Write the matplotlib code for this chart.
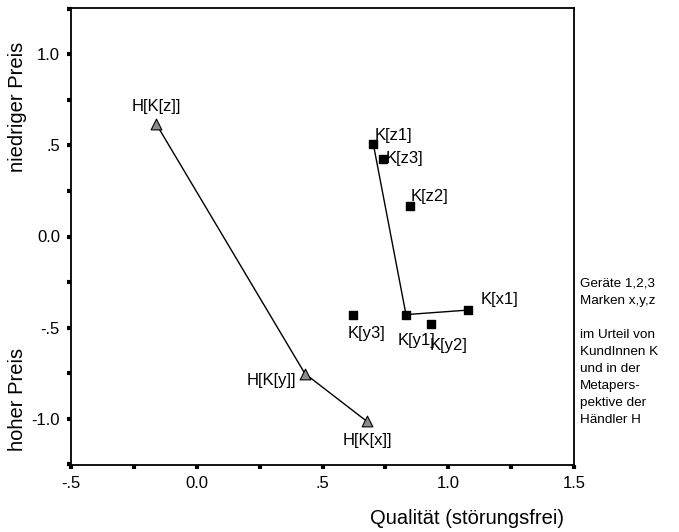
import numpy as np
import matplotlib
matplotlib.use("Agg")
import matplotlib.pyplot as plt
from matplotlib.ticker import MultipleLocator, FixedLocator

plt.rcParams["font.family"] = ["Liberation Sans", "DejaVu Sans"]

# haendler perspective (triangles)
h_labels = ["H[K[z]]", "H[K[y]]", "H[K[x]]"]
h_x = [-0.162, 0.430, 0.677]
h_y = [0.620, -0.753, -1.016]

# kunden (squares)
k_labels = ["K[z1]", "K[z3]", "K[z2]", "K[y1]", "K[x1]", "K[y3]", "K[y2]"]
k_x = [0.702, 0.739, 0.846, 0.832, 1.080, 0.622, 0.932]
k_y = [0.508, 0.426, 0.170, -0.429, -0.404, -0.429, -0.481]
k_line = ["K[z1]", "K[y1]", "K[x1]"]

xticks = [-0.5, 0.0, 0.5, 1.0, 1.5]
xtick_labels = ["-.5", "0.0", ".5", "1.0", "1.5"]
yticks = [-1.0, -0.5, 0.0, 0.5, 1.0]
ytick_labels = ["-1.0", "-.5", "0.0", ".5", "1.0"]

note = "Geräte 1,2,3\nMarken x,y,z\n\nim Urteil von\nKundInnen K\nund in der\nMetapers-\npektive der\nHändler H"

fig = plt.figure(figsize=(6.79, 5.32), dpi=100)
ax = fig.add_axes([71 / 679, 1 - 465 / 532, 503 / 679, 457 / 532])

ax.plot(h_x, h_y, color="black", lw=1.0, zorder=1)
ax.scatter(h_x, h_y, marker="^", s=60, c="#8c8c8c", edgecolors="black", linewidths=0.8, zorder=3)

lx = [k_x[k_labels.index(n)] for n in k_line]
ly = [k_y[k_labels.index(n)] for n in k_line]
ax.plot(lx, ly, color="black", lw=1.0, zorder=1)
ax.scatter(k_x, k_y, marker="s", s=30, c="black", zorder=3)

# label offsets in points
h_off = {"H[K[z]]": (0, 7, "center", "bottom"),
         "H[K[y]]": (-6, -5, "right", "center"),
         "H[K[x]]": (0, -8, "center", "top")}
for n, x, y in zip(h_labels, h_x, h_y):
    dx, dy, ha, va = h_off[n]
    ax.annotate(n, (x, y), xytext=(dx, dy), textcoords="offset points",
                ha=ha, va=va, fontsize=12)

k_off = {"K[z1]": (1, 1, "left", "bottom"),
         "K[z3]": (2, 0, "left", "center"),
         "K[z2]": (1, 1, "left", "bottom"),
         "K[y1]": (-6, -13, "left", "top"),
         "K[x1]": (9, 2, "left", "bottom"),
         "K[y3]": (-4, -8, "left", "top"),
         "K[y2]": (-1, -10, "left", "top")}
for n, x, y in zip(k_labels, k_x, k_y):
    dx, dy, ha, va = k_off[n]
    ax.annotate(n, (x, y), xytext=(dx, dy), textcoords="offset points",
                ha=ha, va=va, fontsize=12)

ax.set_xlim(-0.5, 1.5)
ax.set_ylim(-1.255, 1.255)
ax.xaxis.set_major_locator(FixedLocator(xticks))
ax.set_xticklabels(xtick_labels)
ax.yaxis.set_major_locator(FixedLocator(yticks))
ax.set_yticklabels(ytick_labels)
ax.xaxis.set_minor_locator(MultipleLocator(0.25))
ax.yaxis.set_minor_locator(MultipleLocator(0.25))
ax.tick_params(which="both", direction="out", length=3, width=3, labelsize=12, pad=5)
for s in ax.spines.values():
    s.set_linewidth(1.3)

fig.text(18 / 679, 1 - 107 / 532, "niedriger Preis", rotation=90, ha="center", va="center", fontsize=14.5)
fig.text(18 / 679, 1 - 399 / 532, "hoher Preis", rotation=90, ha="center", va="center", fontsize=14.5)
fig.text(564 / 679, 1 - 518 / 532, "Qualität (störungsfrei)", ha="right", va="center", fontsize=14.5)
fig.text(580 / 679, 1 - 278 / 532, note, ha="left", va="top", fontsize=9.7, linespacing=1.56)

fig.savefig("out.png", dpi=100)
